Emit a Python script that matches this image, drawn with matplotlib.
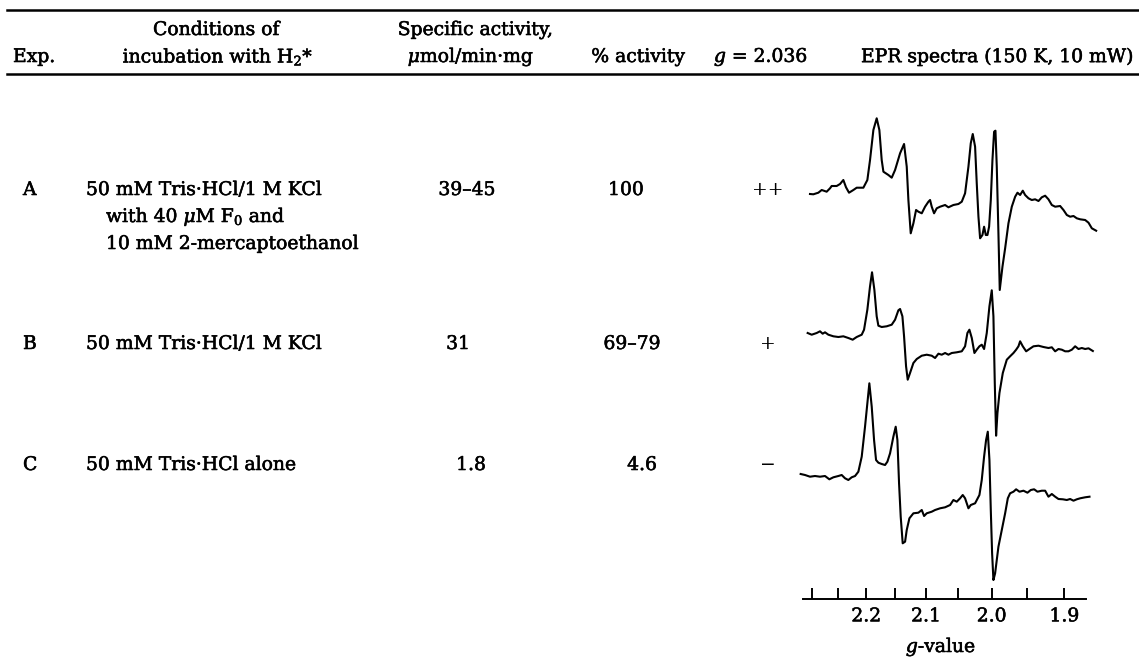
import matplotlib.pyplot as plt
from matplotlib.lines import Line2D
import matplotlib.patheffects as pe

plt.rcParams['font.family'] = 'DejaVu Serif'
plt.rcParams['mathtext.fontset'] = 'dejavuserif'

# Table contents
exp_labels = ['A', 'B', 'C']
conditions = [
    ['50 mM Tris·HCl/1 M KCl', 'with 40 $\\mu$M F$_0$ and', '10 mM 2-mercaptoethanol'],
    ['50 mM Tris·HCl/1 M KCl'],
    ['50 mM Tris·HCl alone'],
]
specific_activity = ['39–45', '31', '1.8']
percent_activity = ['100', '69–79', '4.6']
g2036_signal = ['++', '+', '−']

# EPR spectra digitized: magnetic field (mT) and relative intensity (arb.)
field_a = [282.27, 283.06, 284.24, 285.03, 286.20, 286.99, 287.38, 288.56, 289.35, 290.13,
           290.76, 291.47, 292.49, 293.28, 294.85, 295.79, 296.42, 297.21, 297.99, 298.62,
           299.17, 299.57, 300.75, 301.53, 302.32, 303.50, 304.44, 305.07, 305.46, 306.01,
           306.64, 307.27, 307.82, 308.61, 309.39, 310.18, 310.57, 310.96, 311.51, 312.14,
           312.93, 314.11, 314.89, 316.07, 317.25, 318.04, 318.82, 319.61, 320.16, 320.63,
           321.18, 321.57, 321.97, 322.36, 322.91, 323.30, 323.70, 324.09, 324.48, 324.88,
           325.27, 325.66, 325.98, 326.29, 326.68, 326.99, 327.63, 328.26, 329.04, 329.83,
           330.62, 331.17, 331.79, 332.42, 332.97, 333.76, 334.54, 335.33, 336.12, 336.90,
           337.69, 338.47, 339.26, 340.05, 341.22, 342.01, 342.80, 343.58, 344.37, 345.15,
           345.94, 347.12, 347.91, 348.69, 349.71]
signal_a = [0, -0.3, 1.3, 4.0, 2.3, 5.7, 8.0, 8.0, 10.0, 14.0,
            6.7, 1.3, 4.0, 6.3, 6.3, 14.0, 34.0, 64.0, 75.7, 64.0,
            34.0, 22.3, 19.0, 16.3, 24.0, 40.7, 50.0, 27.3, -6.0, -39.3,
            -29.3, -16.0, -17.7, -19.3, -12.7, -7.7, -6.0, -12.7, -19.3, -14.3,
            -12.7, -11.0, -13.3, -11.0, -10.0, -7.7, 0.7, 27.3, 50.7, 60.0,
            47.3, 10.7, -22.7, -44.3, -41.0, -32.7, -41.0, -41.0, -32.7, -6.0,
            34.0, 62.3, 63.3, 27.3, -39.3, -96.0, -72.7, -54.3, -29.3, -12.7,
            -2.7, 1.3, -1.0, 3.3, -1.0, -4.3, -6.0, -5.3, -7.0, -3.3,
            -1.7, -5.3, -11.0, -12.7, -12.0, -16.0, -21.0, -22.7, -22.0, -24.3,
            -25.3, -26.0, -28.7, -34.3, -36.7]

field_b = [281.72, 282.67, 283.85, 284.63, 285.26, 285.81, 286.60, 287.78, 288.96, 290.13,
           291.31, 292.33, 293.28, 294.46, 295.01, 295.79, 296.42, 296.89, 297.44, 297.99,
           298.39, 299.17, 300.35, 301.53, 302.32, 303.10, 303.50, 304.05, 304.44, 304.91,
           305.30, 305.85, 306.64, 307.43, 308.61, 309.78, 310.96, 311.75, 312.54, 313.32,
           314.11, 314.89, 315.68, 316.86, 318.04, 318.82, 319.37, 319.84, 320.40, 321.02,
           321.57, 322.20, 322.75, 323.30, 323.93, 324.56, 325.11, 325.50, 325.82, 326.13,
           326.45, 326.92, 327.71, 328.65, 329.43, 330.22, 330.85, 331.40, 331.79, 332.42,
           333.21, 333.99, 334.94, 336.12, 337.29, 338.47, 339.26, 340.05, 340.83, 341.62,
           342.40, 343.19, 343.98, 344.76, 345.55, 346.33, 347.12, 347.91, 348.93]
signal_b = [0, -1.7, 0, 1.7, -0.7, 0.7, -1.7, -3.3, -4.0, -3.3,
            -5.0, -6.7, -4.0, -1.7, 3.3, 23.3, 46.7, 60.7, 43.3, 16.7,
            7.3, 6.0, 6.7, 8.3, 13.3, 22.7, 24.0, 16.7, -3.3, -33.3,
            -46.7, -40.0, -30.0, -26.0, -22.7, -21.7, -22.7, -25.0, -20.7, -21.7,
            -20.0, -21.7, -20.0, -19.3, -18.3, -13.3, 0, 3.3, -5.0, -20.0,
            -16.7, -13.3, -11.7, -16.0, 0, 26.7, 42.7, 16.7, -50.0, -102.7,
            -80.0, -60.0, -40.0, -26.7, -23.3, -20.0, -16.7, -13.3, -8.3, -13.3,
            -18.3, -16.0, -13.3, -12.7, -14.0, -15.0, -14.3, -18.3, -16.0, -16.7,
            -18.3, -18.3, -16.7, -13.3, -16.0, -15.0, -16.0, -15.3, -18.0]

field_c = [280.07, 281.10, 282.27, 283.45, 284.63, 285.81, 286.83, 287.78, 288.96, 289.74,
           290.53, 291.31, 292.10, 292.89, 293.67, 294.46, 295.24, 295.79, 296.26, 296.82,
           297.37, 297.84, 298.39, 299.17, 299.96, 300.51, 301.14, 301.92, 302.47, 302.87,
           303.26, 303.65, 304.12, 304.68, 305.07, 305.70, 306.64, 307.82, 308.61, 309.16,
           309.78, 310.96, 311.75, 312.93, 314.11, 315.29, 316.07, 316.86, 317.64, 318.27,
           318.82, 319.61, 320.16, 321.18, 322.20, 322.75, 323.30, 323.77, 324.17, 324.56,
           324.88, 325.19, 325.50, 325.90, 326.68, 327.47, 328.26, 328.89, 329.43, 330.22,
           330.85, 331.64, 332.58, 333.52, 334.31, 335.09, 335.88, 336.90, 337.69, 338.47,
           339.26, 340.05, 340.83, 341.86, 342.80, 343.58, 344.37, 345.15, 345.94, 347.12,
           348.14]
signal_c = [0, -1.0, -2.7, -2.0, -2.7, -2.0, -5.3, -3.3, -2.0, -1.0,
            -4.3, -6.0, -3.3, -2.0, 2.3, 17.3, 47.3, 70.7, 90.7, 67.3,
            34.0, 14.0, 11.3, 10.0, 9.0, 12.3, 20.7, 37.3, 47.3, 34.0,
            -9.3, -42.7, -69.3, -67.7, -56.0, -44.3, -39.3, -38.7, -36.0, -42.0,
            -39.3, -37.7, -36.0, -34.3, -33.3, -31.0, -26.0, -27.7, -24.3, -21.0,
            -24.3, -34.3, -31.0, -29.3, -21.0, -6.0, 17.3, 34.0, 42.3, 14.0,
            -36.0, -79.3, -106.0, -99.3, -72.7, -56.0, -39.3, -24.3, -19.3, -17.7,
            -15.3, -17.7, -16.7, -18.7, -16.0, -15.3, -17.7, -16.7, -16.7, -22.7,
            -20.0, -22.7, -25.0, -25.3, -26.0, -25.0, -26.7, -25.3, -24.3, -23.3,
            -22.7]

g_ticks = [2.3, 2.25, 2.2, 2.15, 2.1, 2.05, 2.0, 1.95, 1.9]
g_labeled = [2.2, 2.1, 2.0, 1.9]
field_const = 650.18  # mT, B = h*nu/(g*muB) at ~9.1 GHz

W, H = 1139, 657
fig = plt.figure(figsize=(W / 100, H / 100), dpi=100)
ink = [pe.withStroke(linewidth=0.4, foreground='black')]


def px(x, y):
    return x / W, 1 - y / H


def put(x, y, s, ha='left', heavy=True, **kw):
    fx, fy = px(x, y)
    fig.text(fx, fy, s, ha=ha, va='center', fontsize=13.5,
             path_effects=ink if heavy else None, **kw)


# rules
for y, lw in [(10, 1.8), (74, 1.8)]:
    fx0, fy = px(7, y)
    fig.add_artist(Line2D([fx0, 1.0], [fy, fy], color='black', lw=lw))

# header
put(216, 30, 'Conditions of', ha='center')
put(475, 30, 'Specific activity,', ha='center')
put(13, 57, 'Exp.')
put(218, 57, 'incubation with H$_2$*', ha='center')
put(471, 57, '$\\mu$mol/min·mg', ha='center')
put(638, 57, '% activity', ha='center')
put(761, 57, '$g$ = 2.036', ha='center')
put(997, 57, 'EPR spectra (150 K, 10 mW)', ha='center')

# body rows
row_y = [190, 344, 465]
spec_x = [467, 458, 471]
pct_x = [626, 632, 642]
for i, y in enumerate(row_y):
    put(23, y, exp_labels[i])
    for j, line in enumerate(conditions[i]):
        put(86 if j == 0 else 106, y + 27 * j, line)
    put(spec_x[i], y, specific_activity[i], ha='center')
    put(pct_x[i], y, percent_activity[i], ha='center')
    put(768, y, g2036_signal[i], ha='center', heavy=False)

# spectra panel
x0, x1, ytop, ybot = 795, 1105, 99, 599
ax = fig.add_axes([x0 / W, 1 - ybot / H, (x1 - x0) / W, (ybot - ytop) / H])
b_lo = 91.38 + 0.23567 * x0
b_hi = 91.38 + 0.23567 * x1
ax.set_xlim(b_lo, b_hi)
ax.set_ylim(0, ybot - ytop)

offsets = [405, 266, 125]
for fld, sig, off in zip([field_a, field_b, field_c], [signal_a, signal_b, signal_c], offsets):
    ax.plot(fld, [off + s for s in sig], color='black', lw=1.5, clip_on=False)

for side in ['top', 'right', 'left']:
    ax.spines[side].set_visible(False)
ax.spines['bottom'].set_linewidth(1.4)
ax.spines['bottom'].set_bounds(91.38 + 0.23567 * 803, 91.38 + 0.23567 * 1086)
ax.set_yticks([])
ax.set_xticks([field_const / g for g in g_ticks])
ax.set_xticklabels([f'{g:.1f}' if g in g_labeled else '' for g in g_ticks], fontsize=13.5)
for lbl in ax.get_xticklabels():
    lbl.set_path_effects(ink)
ax.tick_params(axis='x', direction='in', length=8, width=1.4, pad=6)
ax.set_xlabel('$g$-value', fontsize=13.5, path_effects=ink)
ax.xaxis.set_label_coords((941 - x0) / (x1 - x0), -(647 - ybot) / (ybot - ytop))
ax.xaxis.label.set_va('center')
ax.patch.set_visible(False)

fig.savefig('out.png', dpi=100)
